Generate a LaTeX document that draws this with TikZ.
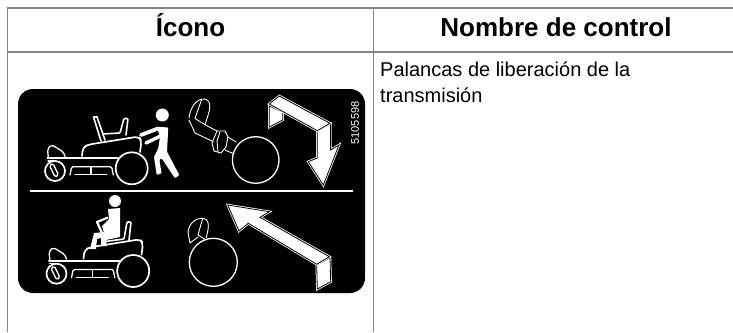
\documentclass[tikz,border=0pt]{standalone}
\usepackage{fontspec}
\setmainfont{Liberation Sans}
\definecolor{rulegray}{HTML}{858585}
\tikzset{
  x=1pt,y=-1pt,
  rule/.style={draw=rulegray,line width=1.4pt},
  wl/.style={draw=white,line width=1.3pt,line join=round,line cap=round},
  thin lever/.style={draw=white,line width=.9pt,line join=round,line cap=round},
  wthick/.style={draw=white,line width=2pt,line join=round,line cap=round},
  arrowhalo/.style={draw=white,line width=2.4pt,line join=miter},
  arrowbody/.style={draw=black,fill=white,line width=.8pt,line join=miter},
  headtext/.style={font=\bfseries\fontsize{26}{30}\selectfont,text=black,inner sep=0pt,anchor=base},
  bodytext/.style={font=\fontsize{20}{25.6}\selectfont,text=black,inner sep=0pt,anchor=north west,align=left},
}
\newcommand{\mowerbase}{%
  \draw[wl,line width=1.7pt] (55,171) circle (10);
  \draw[wl,line width=1.7pt] (131.7,168.3) circle (16);
  \draw[wl,rounded corners=1.5pt] (49.5,165.5) -- (53,163.5) -- (58.5,175) -- (55,177) -- cycle;
  \draw[wl,rounded corners=2pt] (48.3,157) -- (47.5,149) -- (51.7,144.7) -- (63.5,152) -- (65,156.5);
  \draw[wthick] (47.5,157.8) -- (118,157.8);
  \draw[wl] (48,161) -- (55,161);
  \draw[wl,line width=1.7pt,rounded corners=4pt] (82,156) -- (83,147) -- (89,144.5) -- (139,136.5) -- (141.5,141) -- (140,152);
  \draw[wl,rounded corners=1.5pt] (70,175) -- (71.7,166.7) -- (111.7,166.7) -- (113.3,175);
  \draw[wl] (75,174.5) -- (106.7,174.5);
  \draw[wl,line width=1.8pt] (91,167) -- (91,174.5);
}
\begin{document}
\begin{tikzpicture}
\useasboundingbox (0,0) rectangle (733,332);
\fill[white] (0,0) rectangle (733,332);
% table
\draw[rule] (7.5,332) -- (7.5,8) -- (733,8);
\draw[rule] (7.5,52) -- (733,52);
\draw[rule] (373.5,8) -- (373.5,332);
\node[headtext] (hicon) at (190.5,36.7) {Ícono};
\node[headtext] (hname) at (556,36.7) {Nombre de control};
\node[bodytext] (desc) at (380,61.5) {Palancas de liberación de la\\transmisión};
% panel
\fill[black,rounded corners=15pt] (18,89) rectangle (365,293);
\draw[white,line width=1.7pt] (30,190.7) -- (353,190.7);
\node[rotate=90,text=white,inner sep=0pt,font=\fontsize{11}{13}\selectfont] (partno) at (355,123) {5105598};
% upper mower
\mowerbase
\draw[wl,line width=1.6pt,line join=miter] (93.5,117) -- (97,117) -- (105,140);
\draw[wl,line width=1.6pt] (93.5,117) -- (101,141);
\draw[wl,line width=1.6pt,rounded corners=1pt] (103,134) -- (120,133) -- (124,118.5) -- (128,118.5) -- (126,135);
% standing person
\fill[white] (162.3,115) circle (6.5);
\fill[white,rounded corners=1pt] (156.7,126.7) -- (168.3,127.5) -- (167,151.7) -- (179.3,175) -- (175,178.3) -- (161.7,158.3) -- (159.3,160) -- (161.7,173.3) -- (156.7,175) -- (154,156.7) -- (158.3,148.3) -- (160,136.7) -- cycle;
\draw[white,line width=3.8pt,line cap=round] (141,135) -- (158,128.5);
\draw[white,line width=3.4pt,line cap=round] (146,143) -- (161.7,135.5);
% upper lever
\draw[wl] (255.7,160) circle (23.3);
\draw[thin lever] (189,118) .. controls (190,108) and (196,100) .. (201.7,99.3)
  .. controls (209,98) and (211,103) .. (209,112) -- (205,125);
\draw[thin lever] (201.7,99.3) -- (195,118.5) -- (205.5,125) -- (217,131);
\draw[thin lever] (189,120) -- (195,133) -- (213,141.5);
\draw[thin lever] (217,131) -- (225,131) -- (228,137) -- (226,147) -- (221,153) -- (214,151) -- (212,143) -- cycle;
\draw[thin lever] (220,132) -- (217,141) -- (218,152);
\draw[thin lever] (228,137) -- (236,142);
\draw[thin lever] (225,150) -- (233,153.5);
% upper arrow
\def\upband{(269.3,104) -- (279.3,96) -- (330,123.3) -- (317.3,130.7) -- cycle}
\def\upflap{(269.3,106) -- (269.3,127) -- (282.7,120) -- (282.7,112) -- cycle}
\def\upshaft{(317.3,131) -- (330.5,124) -- (330.5,150) -- (339,145) -- (323.3,185) -- (308.3,161.7) -- (317.3,158) -- cycle}
\draw[arrowhalo] \upflap;
\draw[arrowbody] \upflap;
\draw[arrowhalo] \upshaft;
\draw[arrowbody] \upshaft;
\draw[arrowhalo] \upband;
\draw[arrowbody] \upband;
% lower mower
\begin{scope}[shift={(1.5,102.7)}]
\mowerbase
\end{scope}
% seated person
\fill[white] (115,201) circle (6);
\fill[white] (108,209) -- (120,208) -- (120,237) -- (106,240) -- (102,226) -- (109,219) -- cycle;
\draw[white,line width=2.2pt,line join=round] (108,217.5) -- (97,222) -- (102,233);
\fill[white] (94,233) -- (105,232) -- (107,246) -- (101,246) -- (101,238) -- (97,239) -- (96,249) -- (90,249) -- cycle;
\draw[wl,line width=1.6pt,rounded corners=1pt] (105,241.5) -- (124,239) -- (127,222) -- (131,222) -- (129,240);
% lower lever
\draw[wl] (213.3,262.3) circle (24);
\draw[thin lever] (188,232) .. controls (189,224) and (195,218) .. (202,218.3)
  .. controls (209,218.5) and (210,225) .. (206,238);
\draw[thin lever] (202.7,218.3) -- (198,235) -- (206,240);
\draw[thin lever] (188,232) -- (190,243) -- (198,237);
% lower arrow
\def\loband{(227.7,205) -- (269.3,211.7) -- (260,217.3) -- (329.3,256.7) -- (316.7,264.3) -- (248.3,223.3) -- (239,231) -- cycle}
\def\loflap{(316.7,265) -- (330,257.7) -- (330.7,281.7) -- (317.3,289) -- cycle}
\draw[arrowhalo] \loflap;
\draw[arrowbody] \loflap;
\draw[arrowhalo] \loband;
\draw[arrowbody] \loband;
\end{tikzpicture}
\end{document}
